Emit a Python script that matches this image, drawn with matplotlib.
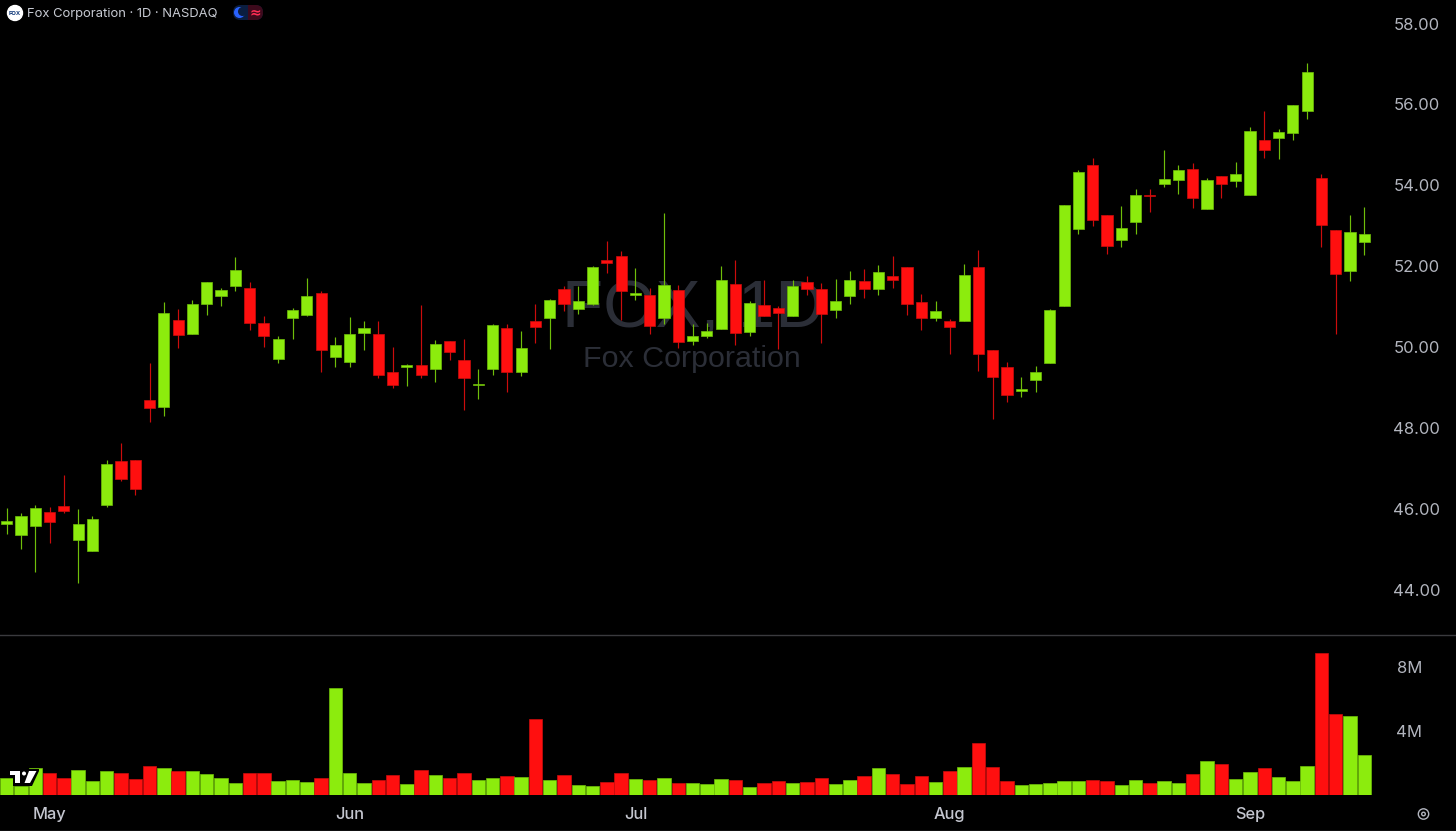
import matplotlib
matplotlib.use("Agg")
import matplotlib.pyplot as plt
from matplotlib.patches import FancyBboxPatch, Circle, Polygon

opens = [45.62,45.34,45.57,45.90,46.05,45.21,44.94,46.09,47.16,47.19,48.68,48.49,50.66,50.32,51.05,51.25,
         51.49,51.45,50.59,49.68,50.71,50.79,51.31,49.75,49.61,50.34,50.32,49.36,49.48,49.54,49.43,50.13,
         49.66,49.04,49.44,50.45,49.38,50.62,50.71,51.41,50.93,51.04,52.13,52.24,51.26,51.28,50.71,51.40,
         50.13,50.27,50.44,51.54,50.36,51.02,50.95,50.76,51.59,51.41,50.91,51.24,51.62,51.42,51.75,51.96,
         51.10,50.71,50.64,50.62,51.96,49.90,49.49,48.91,49.18,49.60,50.99,52.90,54.48,53.24,52.63,53.08,
         53.74,54.01,54.12,54.39,53.40,54.22,54.08,53.74,55.10,55.15,55.29,55.82,54.16,52.88,51.86,52.59]
highs = [46.00,45.87,46.08,46.03,46.81,45.97,45.80,47.19,47.60,47.19,49.60,51.10,50.92,51.16,51.59,51.44,
         52.20,51.59,50.75,50.27,50.94,51.69,51.38,50.23,50.72,50.64,50.62,49.99,49.57,51.02,50.17,50.13,
         50.19,49.45,50.56,50.55,50.38,51.05,51.17,51.49,51.49,51.99,52.60,52.37,51.93,51.45,53.31,51.51,
         50.56,50.57,51.99,52.13,51.12,51.65,50.99,51.64,51.75,51.58,51.67,51.87,51.91,52.01,52.24,51.96,
         51.29,51.12,50.69,52.03,52.38,49.91,49.62,49.24,49.52,50.92,53.51,54.36,54.65,53.24,53.48,53.90,
         53.89,54.86,54.49,54.53,54.17,54.22,54.55,55.42,55.82,55.39,55.97,57.02,54.26,52.88,53.26,53.46]
lows = [45.36,44.98,44.41,45.13,45.89,44.14,44.94,46.04,46.66,46.33,48.14,48.29,49.95,50.32,50.78,51.01,
        51.37,50.40,49.99,49.58,50.19,50.75,49.37,49.50,49.50,49.90,49.23,48.96,49.01,49.21,49.13,49.66,
        48.44,48.71,49.29,48.88,49.28,50.09,49.94,50.88,50.80,51.03,51.81,50.65,51.15,50.30,50.56,49.97,
        50.03,50.22,50.42,50.04,50.26,50.76,49.93,50.76,51.28,50.09,50.70,51.06,51.20,51.26,51.45,50.79,
        50.41,50.64,49.82,50.62,49.39,48.21,48.63,48.76,48.87,49.60,50.99,52.79,52.99,52.28,52.46,52.79,
        53.33,53.94,53.77,53.42,53.40,53.68,53.95,53.74,54.65,54.64,55.11,55.63,52.46,50.32,51.63,52.25]
closes = [45.69,45.80,46.01,45.65,45.94,45.60,45.74,47.08,46.72,46.48,48.47,50.82,50.28,51.05,51.59,51.40,
          51.89,50.59,50.25,50.18,50.89,51.24,49.92,50.03,50.32,50.46,49.29,49.05,49.55,49.30,50.05,49.86,
          49.23,49.07,50.52,49.38,49.97,50.48,51.15,51.04,51.12,51.96,52.07,51.37,51.33,50.51,51.51,50.12,
          50.27,50.37,51.64,50.33,51.07,50.76,50.82,51.49,51.41,50.80,51.12,51.65,51.42,51.85,51.65,51.04,
          50.71,50.88,50.47,51.76,49.82,49.25,48.81,48.94,49.38,50.89,53.51,54.31,53.12,52.48,52.94,53.74,
          53.72,54.15,54.36,53.68,54.12,54.01,54.27,55.34,54.87,55.31,55.97,56.80,53.01,51.80,52.84,52.78]
volumes_m = [1.09,0.58,1.67,1.38,1.09,1.58,0.91,1.52,1.38,0.99,1.83,1.71,1.48,1.48,1.34,1.09,
             0.76,1.36,1.38,0.91,0.97,0.82,1.05,6.65,1.36,0.76,0.97,1.28,0.70,1.58,1.26,1.09,
             1.38,0.97,1.09,1.21,1.15,4.71,0.95,1.26,0.64,0.58,0.84,1.40,1.03,0.97,1.09,0.76,
             0.76,0.70,1.03,0.95,0.51,0.76,0.91,0.76,0.80,1.09,0.70,0.97,1.21,1.67,1.30,0.72,
             1.21,0.82,1.48,1.77,3.21,1.75,0.86,0.64,0.70,0.76,0.86,0.91,0.97,0.91,0.64,0.97,
             0.76,0.91,0.76,1.34,2.12,1.95,1.03,1.42,1.67,1.15,0.86,1.81,8.83,5.02,4.92,2.49]
price_ticks = [44, 46, 48, 50, 52, 54, 56, 58]
volume_ticks = [4, 8]
volume_tick_labels = ["4M", "8M"]
month_positions = [3, 24, 44, 66, 87]
month_labels = ["May", "Jun", "Jul", "Aug", "Sep"]

UP, DOWN = "#8cec0d", "#ff0f0f"
UP_DARK, DOWN_DARK = "#6fbe0a", "#cc0c0c"
GREY = "#b2b5be"
WM = "#2b2e37"
plt.rcParams["font.family"] = ["Inter", "DejaVu Sans"]

W, H = 1456, 831
fig = plt.figure(figsize=(W / 100, H / 100), dpi=100, facecolor="black")


def pane(top, bottom):
    a = fig.add_axes([0, 1 - bottom / H, 1, (bottom - top) / H])
    a.patch.set_alpha(0)
    for s in a.spines.values():
        s.set_visible(False)
    a.set_xticks([])
    a.set_yticks([])
    return a


def overlay(z):
    a = fig.add_axes([0, 0, 1, 1], facecolor="none", zorder=z)
    a.set_xlim(0, W)
    a.set_ylim(H, 0)
    a.axis("off")
    return a


ax = pane(0, 635)
vax = pane(635, 795.4)
xlim = (-6.7 / 14.29, (W - 6.7) / 14.29)
ax.set_xlim(xlim)
vax.set_xlim(xlim)
ax.set_ylim(58 - 612 / 40.43, 58 + 23 / 40.43)
vax.set_ylim(0, (795.4 - 635) / 16.17)

xs = list(range(len(opens)))
up = [c >= o for o, c in zip(opens, closes)]
colors = [UP if u else DOWN for u in up]
dark = [UP_DARK if u else DOWN_DARK for u in up]

ax.vlines(xs, lows, highs, colors=dark, linewidth=0.85, zorder=3)
ax.bar(xs, [c - o for o, c in zip(opens, closes)], bottom=opens, width=0.78,
       color=colors, edgecolor=dark, linewidth=0.5, zorder=4)
vax.bar(xs, volumes_m, width=0.94, color=colors, edgecolor=dark, linewidth=0.5, zorder=3)

# watermark behind the candles
wm = overlay(-1)
wm.text(693, 328, "FOX, 1D", color=WM, fontsize=48.5, ha="center", va="baseline", family="Liberation Sans")
wm.text(692, 367, "Fox Corporation", color=WM, fontsize=21.9, ha="center", va="baseline", family="Liberation Sans")

ov = overlay(5)

# right-hand scales
for p in price_ticks:
    y = H - ax.transData.transform((0, p))[1]
    ov.text(1440, y + 0.5, f"{p:.2f}", color=GREY, fontsize=12, ha="right", va="center_baseline")
for v, lab in zip(volume_ticks, volume_tick_labels):
    y = H - vax.transData.transform((0, v))[1]
    ov.text(1422, y + 0.5, lab, color=GREY, fontsize=12, ha="right", va="center_baseline")
for m, lab in zip(month_positions, month_labels):
    x = ax.transData.transform((m, 0))[0]
    ov.text(x, 819, lab, color="#c4c6cf", fontsize=11.8, ha="center", va="baseline", fontweight="medium")

# separators
ov.plot([0, W], [635, 635], color="#3a3a3e", lw=1.0)
ov.plot([0, W], [830.5, 830.5], color="#4a4a4e", lw=1.0)

# header
ov.add_patch(Circle((15, 13), 7.5, color="white", zorder=5))
ov.text(15, 13.3, "FOX", color="#123a7a", fontsize=4.2, fontweight="bold", ha="center", va="center", zorder=6)
ov.text(27, 17.5, "Fox Corporation · 1D · NASDAQ", color="#c9ccd4", fontsize=9.35, ha="left", va="baseline")
ov.add_patch(FancyBboxPatch((233, 5), 30, 15, boxstyle="round,pad=0,rounding_size=7.5",
                            fc="#0b1e40", ec="none", zorder=5))
right_half = FancyBboxPatch((233, 5), 30, 15, boxstyle="round,pad=0,rounding_size=7.5",
                            fc="#3d0a1c", ec="none", zorder=5)
ov.add_patch(right_half)
clip = plt.Rectangle((248, 0), 40, 30, transform=ov.transData)
right_half.set_clip_path(clip)
ov.add_patch(Circle((239.5, 12.5), 4.8, color="#2962ff", zorder=6))
ov.add_patch(Circle((242.5, 11.5), 3.8, color="#0b1e40", zorder=7))
ov.text(255, 12, "≈", color="#ff2d55", fontsize=10, fontweight="bold", ha="center", va="center", zorder=6,
        family="DejaVu Sans")

# logo and settings glyphs
ov.add_patch(Polygon([(8, 769), (39, 769), (39, 771), (32, 786), (13, 786), (13, 777), (8, 777)],
                     closed=True, fc="black", ec="none", zorder=7))
ov.add_patch(Polygon([(10, 771), (20, 771), (20, 783), (15, 783), (15, 775), (10, 775)],
                     closed=True, fc="white", ec="none", zorder=8))
ov.add_patch(Circle((24, 773.5), 2.0, fc="white", ec="none", zorder=8))
ov.add_patch(Polygon([(29, 771), (36.5, 771), (30, 783), (24.5, 783)],
                     closed=True, fc="white", ec="none", zorder=8))
ov.add_patch(Circle((1423.5, 814), 5.2, fc="none", ec=GREY, lw=1.0))
ov.add_patch(Circle((1423.5, 814), 1.8, fc="none", ec=GREY, lw=1.0))

fig.savefig("out.png", dpi=100, facecolor="black")
